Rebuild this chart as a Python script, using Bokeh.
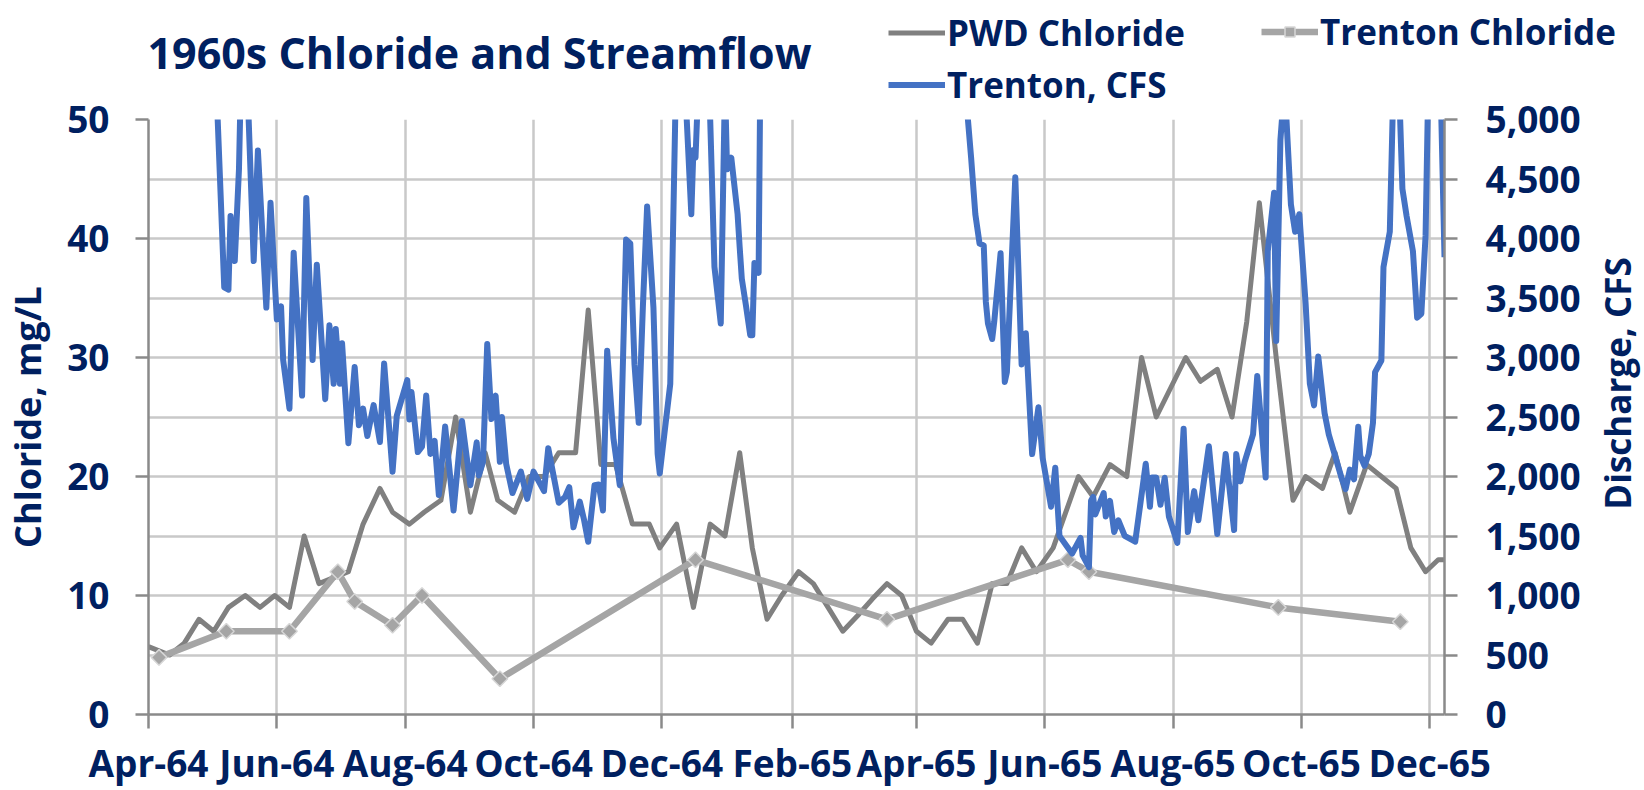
import math
import pandas as pd
from bokeh.plotting import figure
from bokeh.layouts import column, row
from bokeh.models import (Range1d, LinearAxis, FixedTicker, DatetimeTickFormatter,
                          NumeralTickFormatter, Legend, LegendItem, ColumnDataSource, Label)
from bokeh.core.properties import value
from bokeh.embed import file_html
from bokeh.resources import INLINE

# ---------------- data ----------------
TITLE = "1960s  Chloride and Streamflow"
LEFT_LABEL = "Chloride, mg/L"
RIGHT_LABEL = "Discharge, CFS"
SERIES_NAMES = ["PWD Chloride", "Trenton Chloride", "Trenton, CFS"]

pwd_dates = ["1964-04-01", "1964-04-11", "1964-04-18", "1964-04-25", "1964-05-02", "1964-05-09",
             "1964-05-17", "1964-05-24", "1964-05-31", "1964-06-07", "1964-06-14", "1964-06-21",
             "1964-06-28", "1964-07-05", "1964-07-12", "1964-07-20", "1964-07-26", "1964-08-03",
             "1964-08-10", "1964-08-18", "1964-08-25", "1964-09-01", "1964-09-08", "1964-09-14",
             "1964-09-22", "1964-09-29", "1964-10-06", "1964-10-13", "1964-10-21", "1964-10-27",
             "1964-11-02", "1964-11-09", "1964-11-17", "1964-11-25", "1964-11-30", "1964-12-08",
             "1964-12-16", "1964-12-24", "1964-12-31", "1965-01-07", "1965-01-13", "1965-01-20",
             "1965-01-27", "1965-02-04", "1965-02-11", "1965-02-18", "1965-02-25", "1965-03-04",
             "1965-03-11", "1965-03-18", "1965-03-25", "1965-04-01", "1965-04-08", "1965-04-16",
             "1965-04-23", "1965-04-30", "1965-05-07", "1965-05-14", "1965-05-21", "1965-05-28",
             "1965-06-05", "1965-06-11", "1965-06-17", "1965-06-24", "1965-07-02", "1965-07-10",
             "1965-07-17", "1965-07-24", "1965-08-07", "1965-08-14", "1965-08-22", "1965-08-29",
             "1965-09-05", "1965-09-11", "1965-09-19", "1965-09-27", "1965-10-03", "1965-10-11",
             "1965-10-17", "1965-10-24", "1965-11-01", "1965-11-08", "1965-11-15", "1965-11-22",
             "1965-11-29", "1965-12-05", "1965-12-08"]
pwd_chloride = [5.7, 5.0, 6.0, 8.0, 7.0, 9.0, 10.0, 9.0, 10.0, 9.0, 15.0, 11.0,
                11.5, 12.0, 16.0, 19.0, 17.0, 16.0, 17.0, 18.0, 25.0, 17.0, 22.0, 18.0,
                17.0, 20.0, 20.0, 22.0, 22.0, 34.0, 21.0, 21.0, 16.0, 16.0, 14.0, 16.0,
                9.0, 16.0, 15.0, 22.0, 14.0, 8.0, 10.0, 12.0, 11.0, 9.0, 7.0, 8.3,
                9.7, 11.0, 10.0, 7.0, 6.0, 8.0, 8.0, 6.0, 11.0, 11.0, 14.0, 12.0,
                14.0, 17.0, 20.0, 18.3, 21.0, 20.0, 30.0, 25.0, 30.0, 28.0, 29.0, 25.0,
                33.0, 43.0, 30.0, 18.0, 20.0, 19.0, 22.0, 17.0, 21.0, 20.0, 19.0, 14.0,
                12.0, 13.0, 13.0]

trenton_dates = ["1964-04-06", "1964-05-08", "1964-06-07", "1964-06-30", "1964-07-08", "1964-07-26",
                 "1964-08-09", "1964-09-15", "1964-12-17", "1965-03-18", "1965-06-12", "1965-06-22",
                 "1965-09-20", "1965-11-17"]
trenton_chloride = [4.8, 7.0, 7.0, 12.0, 9.5, 7.5, 10.0, 3.0, 13.0, 8.0, 13.0, 12.0, 9.0, 7.8]

cfs_dates = [
    "1964-05-03", "1964-05-07", "1964-05-09", "1964-05-10", "1964-05-12", "1964-05-14", "1964-05-15",
    "1964-05-18", "1964-05-21", "1964-05-23", "1964-05-27", "1964-05-29",
    "1964-06-01", "1964-06-03", "1964-06-04", "1964-06-07", "1964-06-09", "1964-06-13", "1964-06-15",
    "1964-06-18", "1964-06-20", "1964-06-24", "1964-06-26", "1964-06-28", "1964-06-29",
    "1964-07-01", "1964-07-02", "1964-07-05", "1964-07-08", "1964-07-10", "1964-07-12", "1964-07-14",
    "1964-07-17", "1964-07-20", "1964-07-22", "1964-07-26", "1964-07-28",
    "1964-08-02", "1964-08-03", "1964-08-04", "1964-08-07", "1964-08-09", "1964-08-11", "1964-08-13",
    "1964-08-15", "1964-08-17", "1964-08-20", "1964-08-24", "1964-08-28",
    "1964-09-01", "1964-09-04", "1964-09-05", "1964-09-07", "1964-09-09", "1964-09-11", "1964-09-13",
    "1964-09-15", "1964-09-16", "1964-09-18", "1964-09-21", "1964-09-25", "1964-09-28",
    "1964-10-01", "1964-10-06", "1964-10-08", "1964-10-13", "1964-10-16", "1964-10-18", "1964-10-20",
    "1964-10-23", "1964-10-25", "1964-10-27", "1964-10-30",
    "1964-11-01", "1964-11-03", "1964-11-05", "1964-11-08", "1964-11-11", "1964-11-14", "1964-11-16",
    "1964-11-18", "1964-11-20", "1964-11-22", "1964-11-24", "1964-11-27", "1964-11-29", "1964-11-30",
    "1964-12-05", "1964-12-06", "1964-12-08", "1964-12-12", "1964-12-15", "1964-12-16", "1964-12-17",
    "1964-12-19", "1964-12-23", "1964-12-26", "1964-12-29", "1964-12-31",
    "1965-01-01", "1965-01-03", "1965-01-06", "1965-01-07", "1965-01-08", "1965-01-10", "1965-01-12",
    "1965-01-13", "1965-01-14", "1965-01-16", "1965-01-17", "1965-01-31",
    "1965-03-02", "1965-04-01", "1965-04-25", "1965-04-27", "1965-04-29",
    "1965-05-01", "1965-05-03", "1965-05-04", "1965-05-05", "1965-05-07", "1965-05-08", "1965-05-11",
    "1965-05-13", "1965-05-14", "1965-05-18", "1965-05-21", "1965-05-23", "1965-05-26", "1965-05-29",
    "1965-05-31",
    "1965-06-04", "1965-06-06", "1965-06-08", "1965-06-12", "1965-06-14", "1965-06-18", "1965-06-19",
    "1965-06-22", "1965-06-23", "1965-06-24", "1965-06-25", "1965-06-29", "1965-06-30",
    "1965-07-02", "1965-07-04", "1965-07-06", "1965-07-09", "1965-07-14", "1965-07-19", "1965-07-21",
    "1965-07-22", "1965-07-24", "1965-07-26", "1965-07-28", "1965-07-30",
    "1965-08-03", "1965-08-06", "1965-08-08", "1965-08-11", "1965-08-13", "1965-08-18", "1965-08-22",
    "1965-08-26", "1965-08-30", "1965-08-31",
    "1965-09-02", "1965-09-04", "1965-09-08", "1965-09-10", "1965-09-14", "1965-09-15", "1965-09-18",
    "1965-09-19", "1965-09-21", "1965-09-23", "1965-09-26", "1965-09-28", "1965-09-30",
    "1965-10-03", "1965-10-05", "1965-10-07", "1965-10-09", "1965-10-12", "1965-10-14", "1965-10-20",
    "1965-10-22", "1965-10-24", "1965-10-26", "1965-10-28", "1965-10-29", "1965-10-31",
    "1965-11-02", "1965-11-04", "1965-11-05", "1965-11-08", "1965-11-09", "1965-11-12", "1965-11-14",
    "1965-11-16", "1965-11-18", "1965-11-20", "1965-11-23", "1965-11-25", "1965-11-27", "1965-11-29",
    "1965-12-01", "1965-12-06", "1965-12-08"]
trenton_cfs = [
    5400, 3590, 3570, 4190, 3810, 4580, 5400, 5300, 3810, 4740, 3420, 4300,
    3320, 3430, 2980, 2570, 3880, 2680, 4340, 2980, 3780, 2650, 3270, 2780, 3240,
    2780, 3120, 2280, 2920, 2430, 2570, 2340, 2600, 2290, 2950, 2040, 2510,
    2810, 2480, 2710, 2205, 2250, 2680, 2190, 2300, 1845, 2420, 1714, 2467,
    1927, 2287, 2009, 2123, 3113, 2483, 2680, 2123, 2500, 2107, 1861, 2041, 1812,
    2041, 1877, 2238, 1779, 1828, 1910, 1573, 1789, 1638, 1451, 1927,
    1933, 1714, 3057, 2320, 1927, 3991, 3958, 2942, 2451, 3434, 4269, 3420, 2189, 2025,
    2779, 3761, 5600, 5300, 4204, 4744, 4679, 5600, 5600, 3761, 3286, 5300,
    4581, 4679, 4204, 3925, 3663, 3434, 3188, 3188, 3794, 3712, 5800, 9000,
    14000, 12000, 5100, 4679, 4204,
    3958, 3942, 3467, 3286, 3155, 3303, 3876, 2795, 2877, 4515, 2942, 3204, 2189, 2582, 2156,
    1746, 2074, 1501, 1402, 1353, 1484, 1337, 1239, 1796, 1828, 1681, 1861, 1664,
    1796, 1533, 1632, 1501, 1452, 2107, 1746, 1992, 1992, 1763, 1990, 1664,
    1442, 2402, 1533, 1877, 1632, 2254, 1517, 2189, 1550, 2189,
    1959, 2123, 2353, 2844, 1992, 3893, 4384, 3139, 4826, 5300, 4286, 4056, 4204,
    3450, 2779, 2598, 3008, 2533, 2353, 1992, 1894, 2058, 1976, 2418, 2172, 2090,
    2189, 2451, 2877, 2975, 3761, 4056, 5500, 5500, 4417, 4187, 3893, 3335, 3368, 4024,
    6000, 5400, 3843]
assert len(cfs_dates) == len(trenton_cfs)
assert len(pwd_dates) == len(pwd_chloride)

x_tick_dates = ["1964-04-01", "1964-06-01", "1964-08-01", "1964-10-01", "1964-12-01", "1965-02-01",
                "1965-04-01", "1965-06-01", "1965-08-01", "1965-10-01", "1965-12-01"]
x_start, x_end = "1964-04-01", "1965-12-08"
left_ticks = [0, 10, 20, 30, 40, 50]
grid_ticks = [0, 5, 10, 15, 20, 25, 30, 35, 40, 45, 50]
right_ticks = [0, 500, 1000, 1500, 2000, 2500, 3000, 3500, 4000, 4500, 5000]

# ---------------- style / layout ----------------
NAVY = "#002060"
FONT = "Open Sans"
AXIS_GREY = "#8A8A8A"
GRID_GREY = "#C9C9C9"
PWD_COLOR = "#808080"
TREN_COLOR = "#A5A5A5"
CFS_COLOR = "#4472C4"

TOTAL_W, TOTAL_H = 1644, 790
HEAD_H = 117          # strip above the plot: title + legend
OVERLAP = 26          # main plot's (transparent) top border slides under the head strip
MAIN_H = TOTAL_H - HEAD_H + OVERLAP
SIDE_W = 60           # strip right of the plot: right axis title
MAIN_W = TOTAL_W - SIDE_W
PLOT_TOP = 119        # page row of the 50 / 5,000 gridline


def ms(s):
    return pd.Timestamp(s).value / 1e6


def bare(width, height):
    f = figure(width=width, height=height, x_range=Range1d(0, 1), y_range=Range1d(0, 1),
               output_backend="svg", toolbar_location=None, title_location=None,
               x_axis_location=None, y_axis_location=None, min_border=0)
    f.outline_line_color = None
    f.background_fill_color = None
    f.border_fill_color = None
    f.grid.visible = False
    return f


src_pwd = ColumnDataSource(dict(x=pd.to_datetime(pwd_dates), y=pwd_chloride))
src_tren = ColumnDataSource(dict(x=pd.to_datetime(trenton_dates), y=trenton_chloride))
src_cfs = ColumnDataSource(dict(x=pd.to_datetime(cfs_dates), y=trenton_cfs))

PWD_STYLE = dict(line_color=PWD_COLOR, line_width=5, line_join="round")
TREN_STYLE = dict(line_color=TREN_COLOR, line_width=6.5, line_join="round")
MARK_STYLE = dict(marker="square", angle=math.pi / 4, size=11, fill_color=TREN_COLOR,
                  line_color="#D6D6D6", line_width=1.5)
CFS_STYLE = dict(line_color=CFS_COLOR, line_width=6, line_join="round")

# ---------------- main plot ----------------
p = figure(width=MAIN_W, height=MAIN_H, x_axis_type="datetime",
           x_range=Range1d(pd.Timestamp(x_start), pd.Timestamp(x_end)),
           y_range=Range1d(0, 50),
           output_backend="svg", toolbar_location=None, title_location=None,
           min_border_left=146, min_border_right=MAIN_W - 1444,
           min_border_top=PLOT_TOP - (HEAD_H - OVERLAP), min_border_bottom=73)
p.extra_y_ranges = {"cfs": Range1d(0, 5000)}
p.outline_line_color = None
p.background_fill_color = "white"
p.border_fill_color = None

p.line("x", "y", source=src_pwd, **PWD_STYLE)
p.line("x", "y", source=src_tren, **TREN_STYLE)
p.scatter("x", "y", source=src_tren, **MARK_STYLE)
p.line("x", "y", source=src_cfs, y_range_name="cfs", **CFS_STYLE)

xax = p.xaxis[0]
xax.ticker = FixedTicker(ticks=[ms(d) for d in x_tick_dates])
fmt = "%b-%y"
xax.formatter = DatetimeTickFormatter(microseconds=fmt, milliseconds=fmt, seconds=fmt, minsec=fmt,
                                      minutes=fmt, hourmin=fmt, hours=fmt, days=fmt,
                                      months=fmt, years=fmt)
yl = p.yaxis[0]
yl.ticker = FixedTicker(ticks=left_ticks)
yl.axis_label = LEFT_LABEL

yr = LinearAxis(y_range_name="cfs", ticker=FixedTicker(ticks=right_ticks),
                formatter=NumeralTickFormatter(format="0,0"))
p.add_layout(yr, "right")

for ax in (xax, yl, yr):
    ax.axis_line_color = AXIS_GREY
    ax.axis_line_width = 2.5
    ax.major_tick_line_color = AXIS_GREY
    ax.major_tick_line_width = 2.5
    ax.major_tick_in = 0
    ax.major_tick_out = 13
    ax.minor_tick_line_color = None
    ax.major_label_text_font = FONT
    ax.major_label_text_font_style = "bold"
    ax.major_label_text_font_size = "37px"
    ax.major_label_text_color = NAVY
    ax.axis_label_text_font = FONT
    ax.axis_label_text_font_style = "bold"
    ax.axis_label_text_font_size = "36px"
    ax.axis_label_text_color = NAVY
xax.major_tick_out = 14
xax.major_label_standoff = 8
yl.major_label_standoff = 26
yl.axis_label_standoff = 12
yr.major_label_standoff = 28

p.xgrid.grid_line_color = GRID_GREY
p.xgrid.grid_line_width = 2.5
p.ygrid.ticker = FixedTicker(ticks=grid_ticks)
p.ygrid.grid_line_color = GRID_GREY
p.ygrid.grid_line_width = 2.5

# ---------------- head strip: title + legend ----------------
head = bare(TOTAL_W, HEAD_H)
head.background_fill_color = "white"
h_pwd = head.line("x", "y", source=src_pwd, **PWD_STYLE)
h_tl = head.line("x", "y", source=src_tren, **TREN_STYLE)
h_tm = head.scatter("x", "y", source=src_tren, **MARK_STYLE)
h_cfs = head.line("x", "y", source=src_cfs, **CFS_STYLE)

head.add_layout(Label(x=147, y=HEAD_H - 52, x_units="screen", y_units="screen", text=TITLE,
                      text_font=FONT, text_font_style="bold", text_font_size="43px",
                      text_color=NAVY, text_align="left", text_baseline="middle"))

leg1 = Legend(items=[LegendItem(label=value(SERIES_NAMES[0]), renderers=[h_pwd]),
                     LegendItem(label=value(SERIES_NAMES[2]), renderers=[h_cfs])],
              location=(888, HEAD_H - 108), orientation="vertical")
leg2 = Legend(items=[LegendItem(label=value(SERIES_NAMES[1]), renderers=[h_tl, h_tm])],
              location=(1261, HEAD_H - 55), orientation="vertical")
for leg in (leg1, leg2):
    leg.padding = 0
    leg.margin = 0
    leg.spacing = 5
    leg.border_line_color = None
    leg.background_fill_alpha = 0
    leg.glyph_width = 57
    leg.glyph_height = 25
    leg.label_standoff = 2
    leg.label_text_font = FONT
    leg.label_text_font_style = "bold"
    leg.label_text_font_size = "35px"
    leg.label_text_color = NAVY
    head.add_layout(leg, "center")

# ---------------- side strip: right axis title ----------------
side = bare(SIDE_W, MAIN_H)
side.add_layout(Label(x=33, y=331, x_units="screen", y_units="screen", text=RIGHT_LABEL,
                      angle=math.pi / 2, text_font=FONT, text_font_style="bold",
                      text_font_size="35px", text_color=NAVY, text_align="center",
                      text_baseline="middle"))

layout = column(head, row(p, side, spacing=0, margin=(-OVERLAP, 0, 0, 0)), spacing=0)
open("out.html", "w").write(file_html(layout, INLINE))
